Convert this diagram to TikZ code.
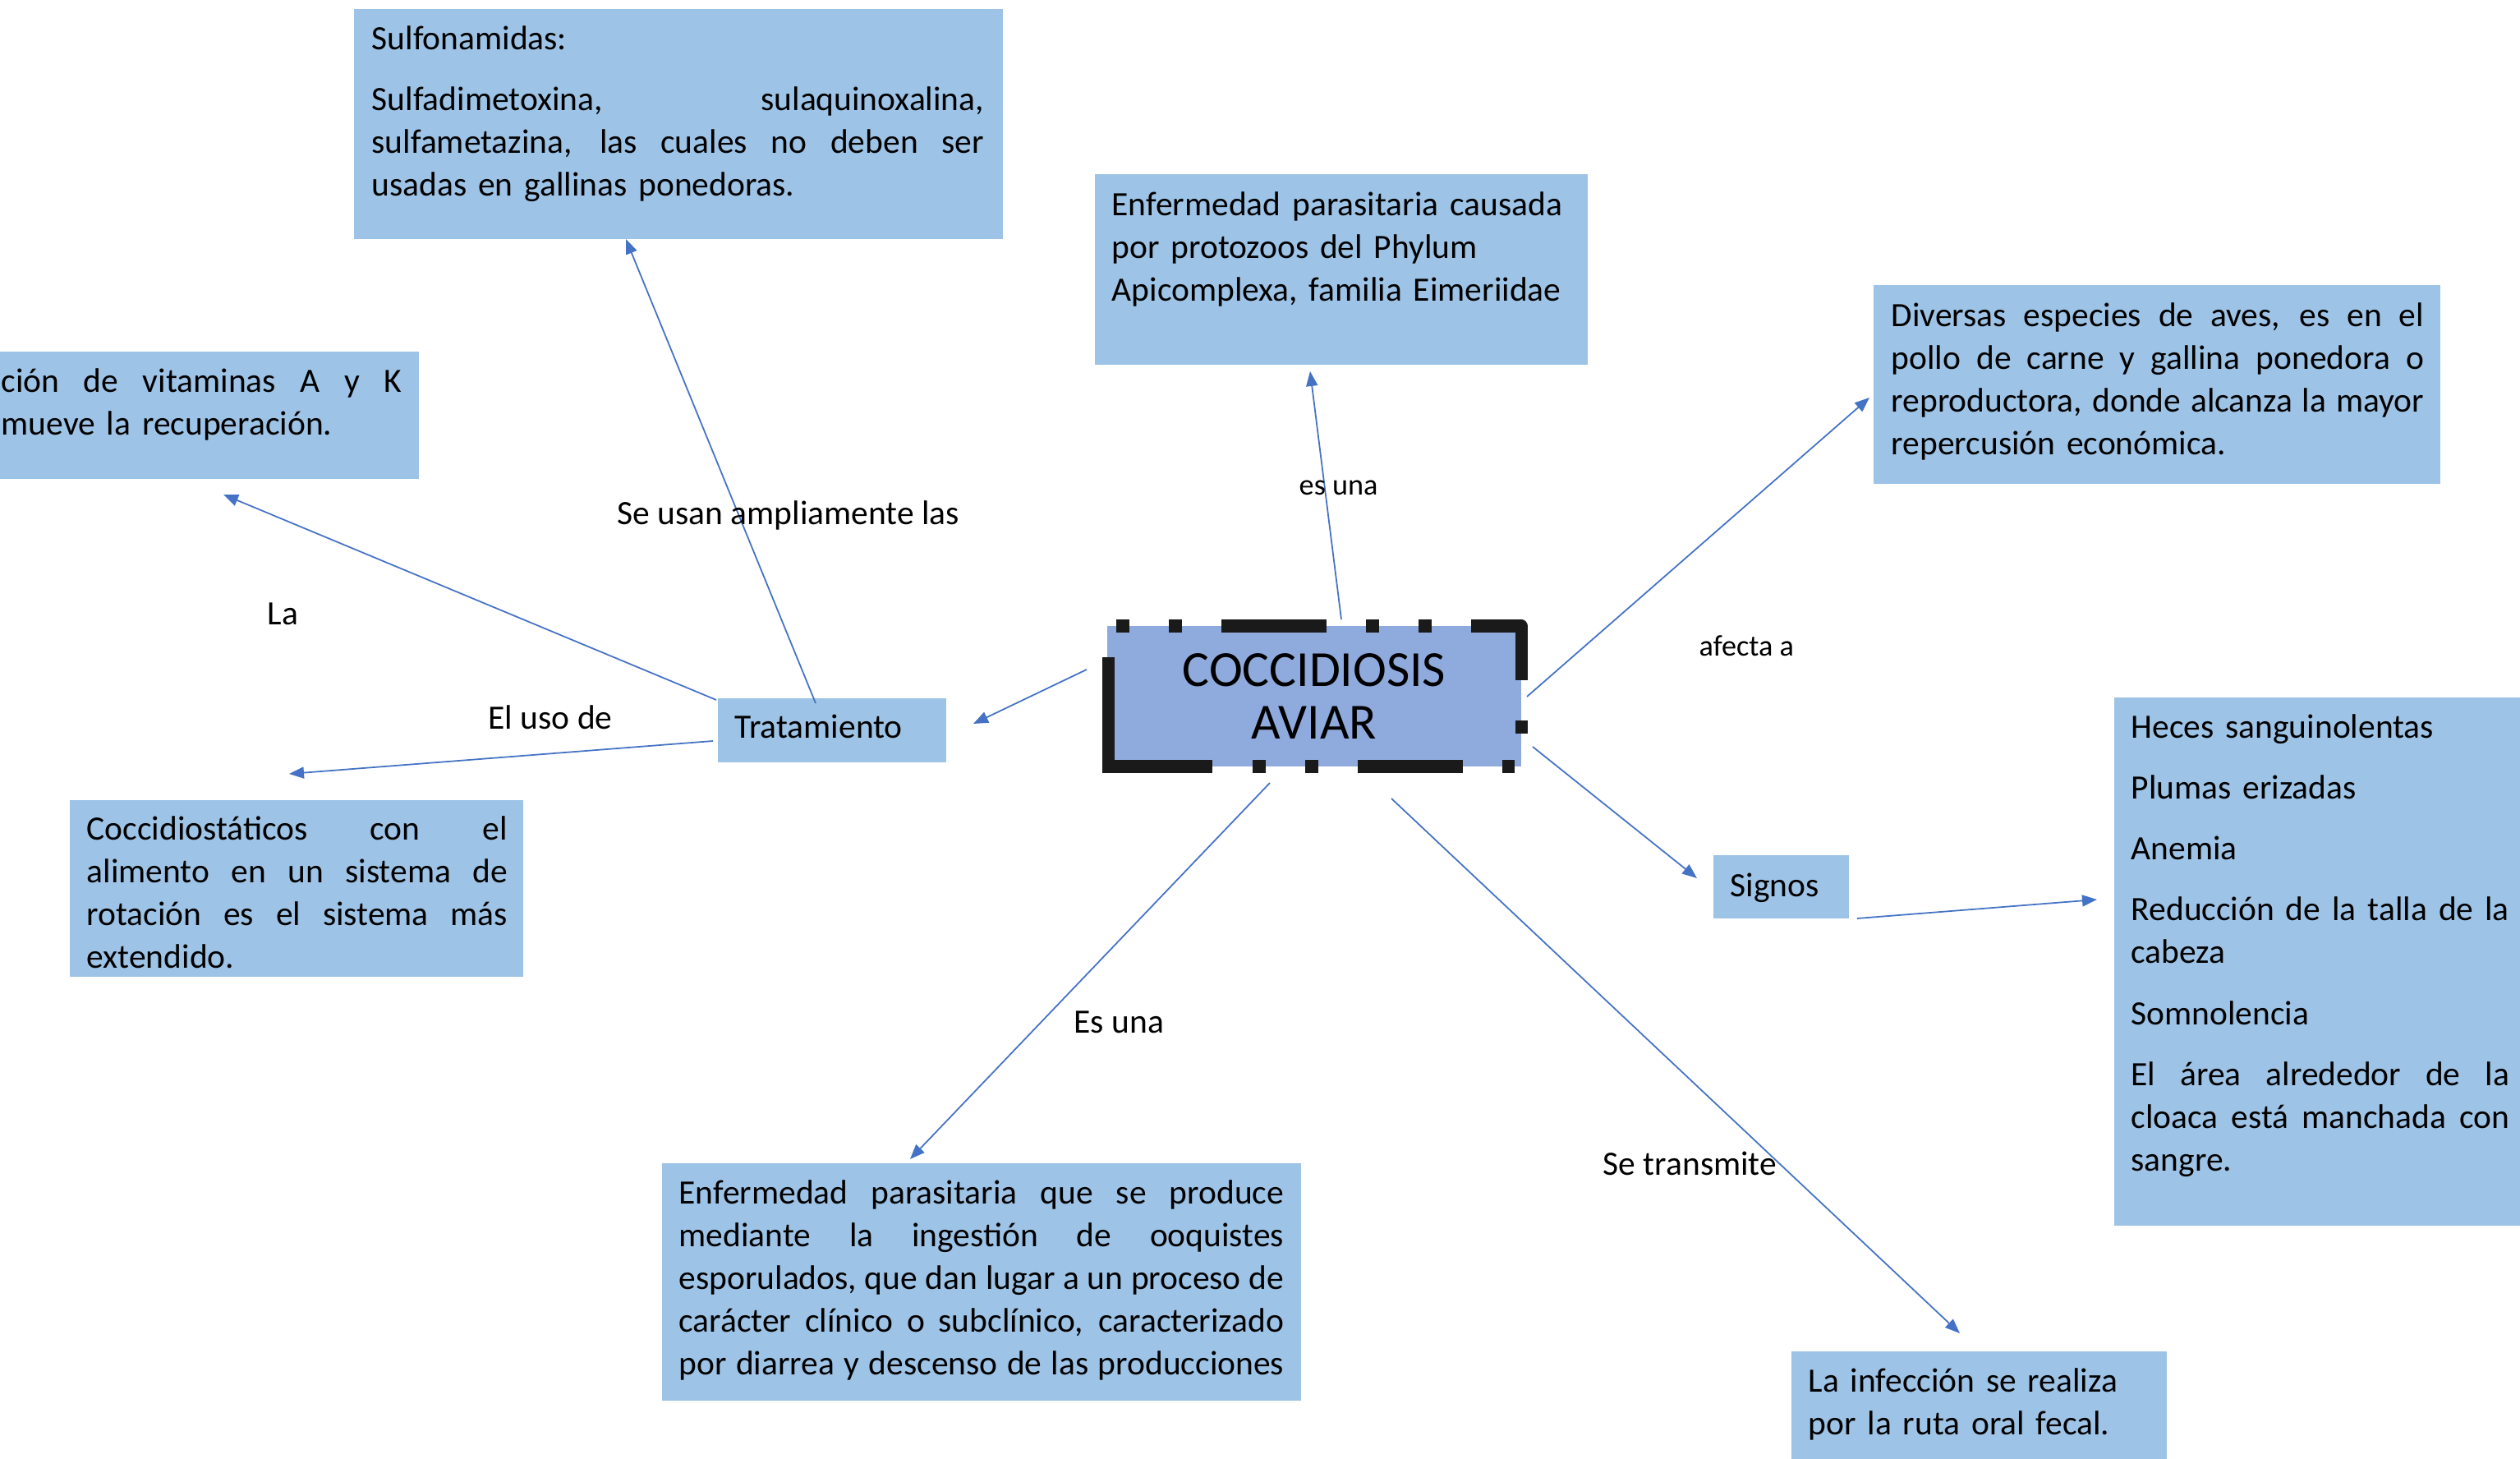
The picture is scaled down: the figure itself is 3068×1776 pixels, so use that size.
\documentclass[tikz,border=0pt]{standalone}
\usepackage{fontspec}
\setmainfont{Carlito}
\usetikzlibrary{arrows.meta}
\definecolor{boxblue}{HTML}{9DC3E6}
\definecolor{cenblue}{HTML}{8FAADC}
\definecolor{arrowblue}{HTML}{4472C4}
\definecolor{cblack}{HTML}{1A1A1A}
\setlength\parindent{0pt}
\newcommand\bodyfont{\fontsize{11.8pt}{14.8pt}\selectfont}
\newcommand\cenfont{\fontsize{17.5pt}{18.3pt}\selectfont}
\newcommand\smallfont{\fontsize{10.3pt}{12pt}\selectfont}
\newcommand\jline[1]{\leavevmode\hbox to \hsize{\spaceskip=0.25em plus 2em minus 0.08em\xspaceskip=0pt\relax #1}}
\begin{document}
\begin{tikzpicture}[x=0.01cm,y=-0.01cm,
  box/.style={rectangle, fill=boxblue, draw=none, inner sep=0pt, anchor=north west},
  cbox/.style={rectangle, fill=cenblue, draw=none, inner sep=0pt, minimum width=5.04cm, minimum height=1.71cm, align=center, font=\cenfont},
  txt/.style={anchor=north west, inner sep=0pt, font=\bodyfont, align=left},
  lab/.style={anchor=base west, inner sep=0pt, font=\bodyfont},
  slab/.style={anchor=base west, inner sep=0pt, font=\smallfont},
  arr/.style={draw=arrowblue, line width=0.5pt, -{Triangle[length=0.18cm, width=0.14cm]}},
  cb/.style={draw=cblack, line width=0.15cm}]
\useasboundingbox (0,0) rectangle (3068,1776);
\fill[white] (0,0) rectangle (3068,1776);

% boxes
\node[box, minimum width=7.90cm, minimum height=2.80cm] (sulf) at (430,10) {};
\node[box, minimum width=6.00cm, minimum height=2.32cm] (def) at (1332,211) {};
\node[box, minimum width=6.90cm, minimum height=2.42cm] (aves) at (2280,346) {};
\node[box, minimum width=5.29cm, minimum height=1.55cm] (vit) at (-20,427) {};
\node[box, minimum width=5.52cm, minimum height=2.15cm] (cocc) at (84,973) {};
\node[box, minimum width=2.78cm, minimum height=0.78cm] (trat) at (873,849) {};
\node[box, minimum width=7.78cm, minimum height=2.89cm] (prod) at (805,1415) {};
\node[box, minimum width=4.57cm, minimum height=1.50cm] (infec) at (2180,1644) {};
\node[box, minimum width=1.65cm, minimum height=0.77cm] (signos) at (2085,1040) {};
\node[box, minimum width=5.20cm, minimum height=6.43cm] (list) at (2573,848) {};

% central node
\node[cbox] (cen) at (1600,847.5) {COCCIDIOSIS\\AVIAR};
\draw[cb, line join=miter] (1349,800) -- (1349,933) -- (1476,933);
\draw[cb] (1525,933) -- (1541,933);
\draw[cb] (1589,933) -- (1605,933);
\draw[cb] (1653,933) -- (1781,933);
\draw[cb] (1829,933) -- (1844,933);
\draw[cb] (1852,877) -- (1852,893);
\draw[cb, line join=round] (1791,762) -- (1852,762) -- (1852,828);
\draw[cb] (1727,762) -- (1743,762);
\draw[cb] (1663,762) -- (1679,762);
\draw[cb] (1487,762) -- (1615,762);
\draw[cb] (1423,762) -- (1439,762);
\draw[cb] (1359,762) -- (1375,762);

% texts in boxes
\node[txt, text width=7.45cm] (sulf-t) at (452,23) {\strut Sulfonamidas:\\[0.22cm]
  \jline{Sulfadimetoxina, sulaquinoxalina,}\\
  \jline{sulfametazina, las cuales no deben ser}\\
  usadas en gallinas ponedoras.};
\node[txt, text width=5.80cm] (def-t) at (1353,225.6) {\strut Enfermedad parasitaria causada\\
  por protozoos del Phylum\\
  Apicomplexa, familia Eimeriidae};
\node[txt, text width=6.48cm] (aves-t) at (2302,360.6) {\strut\jline{Diversas especies de aves, es en el}\\
  \jline{pollo de carne y gallina ponedora o}\\
  \jline{reproductora, donde alcanza la mayor}\\
  repercusión económica.};
\node[txt, text width=4.87cm] (vit-t) at (1,440.6) {\strut\jline{ción de vitaminas A y K}\\
  mueve la recuperación.};
\node[txt, text width=5.12cm] (cocc-t) at (105,985.6) {\strut\jline{Coccidiostáticos con el}\\
  \jline{alimento en un sistema de}\\
  \jline{rotación es el sistema más}\\
  extendido.};
\node[txt] (trat-t) at (894,861.6) {\strut Tratamiento};
\node[txt, text width=7.36cm] (prod-t) at (826,1428.6) {\strut\jline{Enfermedad parasitaria que se produce}\\
  \jline{mediante la ingestión de ooquistes}\\
  \jline{esporulados, que dan lugar a un proceso de}\\
  \jline{carácter clínico o subclínico, caracterizado}\\
  \jline{por diarrea y descenso de las producciones}};
\node[txt, text width=4.30cm] (infec-t) at (2201,1657.6) {\strut La infección se realiza\\
  por la ruta oral fecal.};
\node[txt] (signos-t) at (2106,1054.6) {\strut Signos};
\node[txt, text width=4.60cm] (list-t) at (2594,861.6) {\strut Heces sanguinolentas\\[0.22cm]
  Plumas erizadas\\[0.22cm]
  Anemia\\[0.22cm]
  \jline{Reducción de la talla de la}\\
  cabeza\\[0.22cm]
  Somnolencia\\[0.22cm]
  \jline{El área alrededor de la}\\
  \jline{cloaca está manchada con}\\
  sangre.};

% connector end points
\coordinate (a1s) at (1633,754);  \coordinate (a1e) at (1595,452);
\coordinate (a2s) at (1859,848);  \coordinate (a2e) at (2276,484);
\coordinate (a3s) at (1866,909);  \coordinate (a3e) at (2066,1069);
\coordinate (a4s) at (2261,1118); \coordinate (a4e) at (2553,1095);
\coordinate (a5s) at (1694,972);  \coordinate (a5e) at (2386,1623);
\coordinate (a6s) at (1546,953);  \coordinate (a6e) at (1108,1411);
\coordinate (a7s) at (1323,815);  \coordinate (a7e) at (1185,881);
\coordinate (a8s) at (993,856);   \coordinate (a8e) at (762,291);
\coordinate (a9s) at (872,852);   \coordinate (a9e) at (272,602);
\coordinate (a10s) at (868,902);  \coordinate (a10e) at (352,942);

\draw[arr] (a1s) -- (a1e);
\draw[arr] (a2s) -- (a2e);
\draw[arr] (a3s) -- (a3e);
\draw[arr] (a4s) -- (a4e);
\draw[arr] (a5s) -- (a5e);
\draw[arr] (a6s) -- (a6e);
\draw[arr] (a7s) -- (a7e);
\draw[arr] (a8s) -- (a8e);
\draw[arr] (a9s) -- (a9e);
\draw[arr] (a10s) -- (a10e);

% connector labels
\node[slab] (l1) at (1581,603) {es una};
\node[slab] (l2) at (2068,798) {afecta a};
\node[lab] (l3) at (751,639) {Se usan ampliamente las};
\node[lab] (l4) at (325,761) {La};
\node[lab] (l5) at (594,888) {El uso de};
\node[lab] (l6) at (1307,1257) {Es una};
\node[lab] (l7) at (1951,1430) {Se transmite};
\end{tikzpicture}
\end{document}
